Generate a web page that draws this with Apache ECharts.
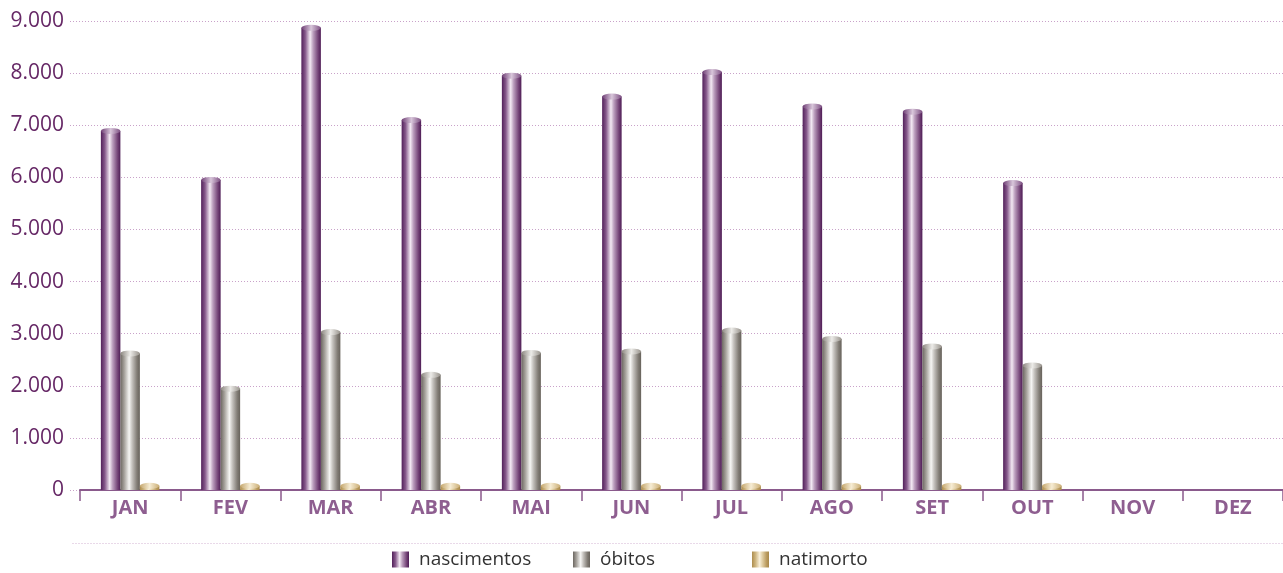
<!DOCTYPE html>
<html>
<head>
<meta charset="utf-8">
<script src="https://cdn.jsdelivr.net/npm/echarts@6/dist/echarts.min.js"></script>
<style>
  html, body { margin: 0; padding: 0; background: #fff; }
  #chart { width: 1283px; height: 573px; }
</style>
</head>
<body>
<div id="chart"></div>
<script>
const months = ['JAN', 'FEV', 'MAR', 'ABR', 'MAI', 'JUN', 'JUL', 'AGO', 'SET', 'OUT', 'NOV', 'DEZ'];
const nascimentos = [6890, 5950, 8870, 7100, 7950, 7550, 8020, 7360, 7260, 5890, null, null];
const obitos = [2620, 1945, 3030, 2210, 2630, 2660, 3060, 2900, 2755, 2390, null, null];
const natimorto = [80, 80, 80, 80, 80, 80, 80, 80, 80, 80, null, null];
const yTicks = [0, 1000, 2000, 3000, 4000, 5000, 6000, 7000, 8000, 9000];

const chart = echarts.init(document.getElementById('chart'));

// horizontal gradient = cylinder shading
function tube(stops) {
    return {
        type: 'linear', x: 0, y: 0, x2: 1, y2: 0,
        colorStops: stops.map(s => ({ offset: s[0], color: s[1] }))
    };
}

const purple = tube([[0, '#52205a'], [0.2, '#86598b'], [0.45, '#f3e9f3'], [0.6, '#bc9fbe'], [0.85, '#764679'], [1, '#4e1c55']]);
const gray = tube([[0, '#6c6761'], [0.2, '#a6a29c'], [0.45, '#f6f6f4'], [0.6, '#c6c3bf'], [0.85, '#827d76'], [1, '#67625b']]);
const gold = tube([[0, '#ad8d4e'], [0.2, '#cdb47e'], [0.45, '#f8efd9'], [0.6, '#e2d0a6'], [0.85, '#bb9c60'], [1, '#a8884a']]);
const purpleCap = tube([[0, '#6e3d74'], [0.5, '#d8c6da'], [1, '#7d4f82']]);
const grayCap = tube([[0, '#8a857e'], [0.5, '#ecebe8'], [1, '#97928b']]);
const goldCap = tube([[0, '#c4a66c'], [0.5, '#f6ecd4'], [1, '#caad74']]);

const BW = 19.5;
const fmt = v => v === 0 ? '0' : (v / 1000).toFixed(0) + '.000';

function barSeries(name, data, color) {
    return {
        name: name, type: 'bar', data: data,
        xAxisIndex: 0, yAxisIndex: 0,
        barWidth: BW, barGap: '0%',
        itemStyle: { color: color }
    };
}
function capSeries(name, data, color) {
    return {
        name: name + '_cap', type: 'pictorialBar', data: data,
        xAxisIndex: 0, yAxisIndex: 0,
        barWidth: BW, barGap: '0%',
        symbol: 'circle', symbolSize: [BW, 6],
        symbolPosition: 'end', symbolOffset: [0, '-50%'],
        itemStyle: { color: color },
        z: 3, silent: true
    };
}

function legendItem(name, left) {
    return {
        data: [name], left: left, top: 550, padding: 0,
        icon: 'rect', itemWidth: 17, itemHeight: 16,
        selectedMode: false,
        textStyle: { color: '#333333', fontSize: 19, fontFamily: 'Open Sans', padding: [0, 0, 0, 5] }
    };
}

const option = {
    backgroundColor: '#ffffff',
    animation: false,
    grid: [
        { left: 80, right: 0, top: 21, bottom: 83, outerBoundsMode: 'none' },
        { left: 70, right: 0, top: 21, bottom: 83, outerBoundsMode: 'none' }
    ],
    legend: [
        legendItem('nascimentos', 392),
        legendItem('óbitos', 573),
        legendItem('natimorto', 752)
    ],
    xAxis: [
        {
            type: 'category', gridIndex: 0, data: months,
            axisLine: { lineStyle: { color: '#8a5a8c', width: 2 } },
            axisTick: { show: true, length: 11, interval: 0, lineStyle: { color: '#8a5a8c', width: 1.5 } },
            axisLabel: { color: '#8e5e90', fontSize: 20, fontWeight: 'bold', fontFamily: 'Open Sans', margin: 8, interval: 0 }
        },
        { type: 'value', gridIndex: 1, show: false, min: 0, max: 1 }
    ],
    yAxis: [
        { type: 'value', gridIndex: 0, min: 0, max: 9000, interval: 1000, show: false },
        {
            type: 'value', gridIndex: 1, min: 0, max: 9000, interval: 1000,
            axisLine: { show: false }, axisTick: { show: false },
            splitLine: { lineStyle: { color: '#c9a2c9', type: [1, 2], width: 1 } },
            axisLabel: {
                color: '#662866', fontSize: 21, fontFamily: 'Open Sans', margin: 6,
                formatter: v => yTicks.indexOf(v) >= 0 ? fmt(v) : ''
            }
        }
    ],
    graphic: [{
        type: 'line', left: 70, top: 541,
        shape: { x1: 0, y1: 0, x2: 1213, y2: 0 },
        style: { stroke: '#d3b3d3', lineWidth: 1, lineDash: [1, 2] }
    }],
    series: [
        barSeries('nascimentos', nascimentos, purple),
        barSeries('óbitos', obitos, gray),
        barSeries('natimorto', natimorto, gold),
        capSeries('nascimentos', nascimentos, purpleCap),
        capSeries('óbitos', obitos, grayCap),
        capSeries('natimorto', natimorto, goldCap)
    ]
};

chart.setOption(option);
</script>
</body>
</html>
